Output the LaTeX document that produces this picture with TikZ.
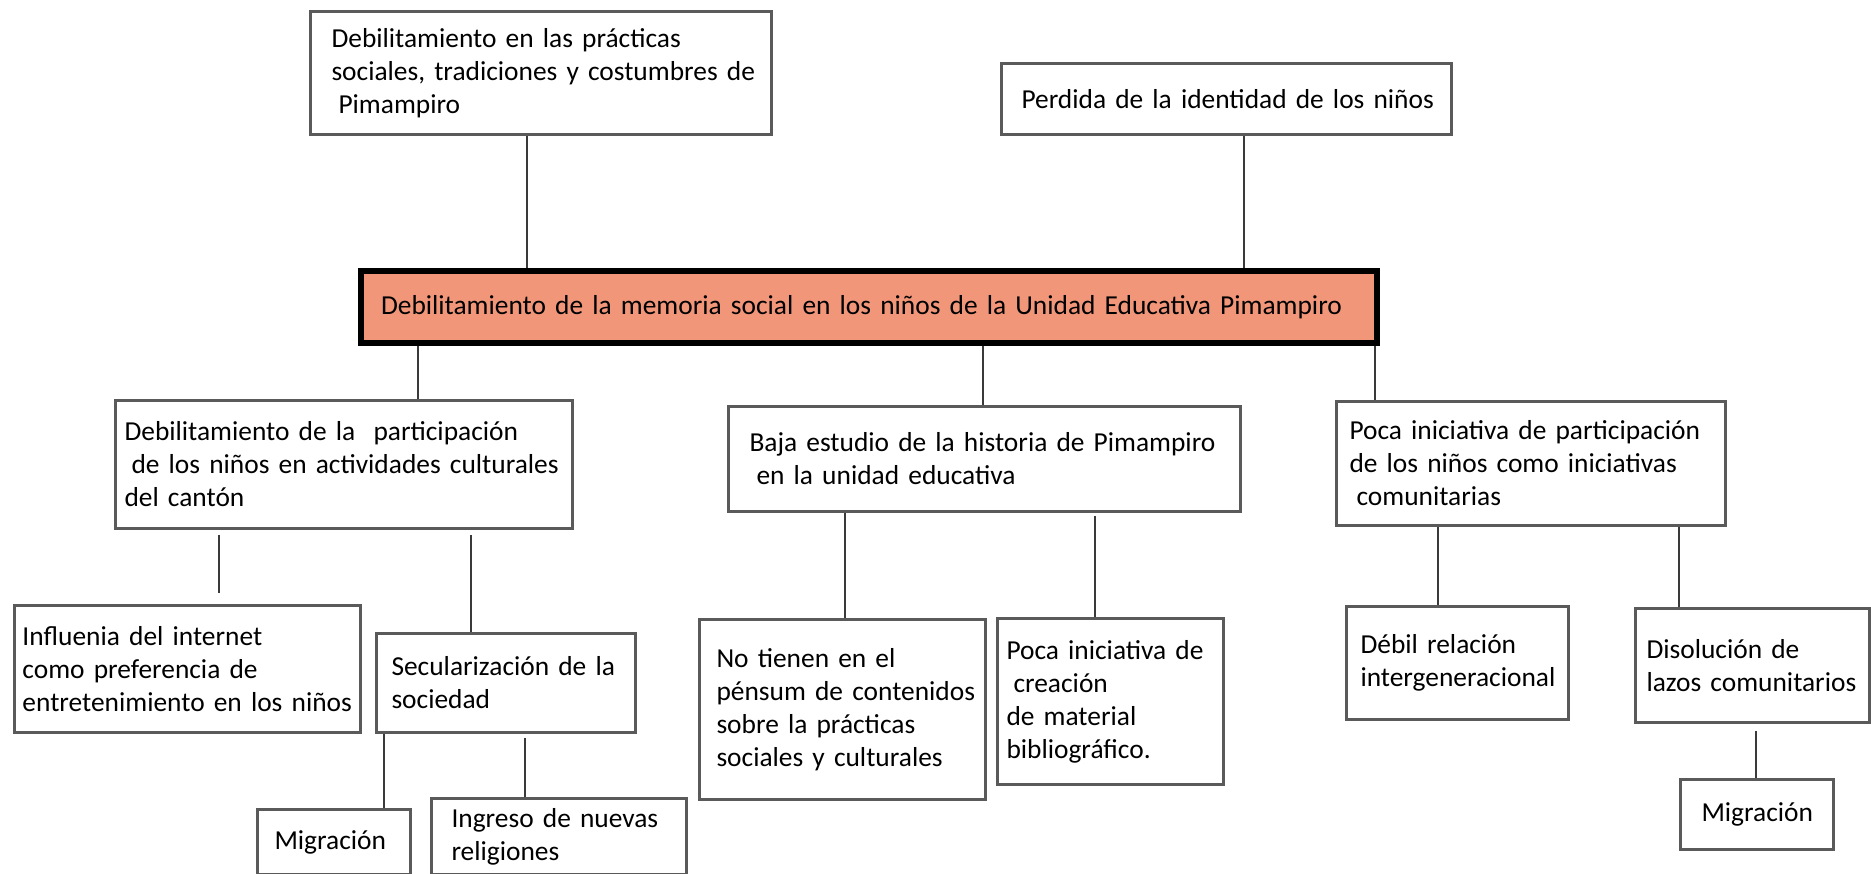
\documentclass[tikz,border=0pt]{standalone}
\usepackage{fontspec}
\setmainfont{Carlito}
\usepackage{tikz}
\usetikzlibrary{positioning}

\definecolor{salmon}{HTML}{F2967A}
\definecolor{boxgray}{HTML}{5A5A5A}
\definecolor{linegray}{HTML}{3A3A3A}

\begin{document}
\begin{tikzpicture}[x=0.1mm,y=-0.1mm,font=\fontsize{7.8}{9.4}\selectfont]
		\tikzstyle{box}=[rectangle, draw=boxgray, line width=0.3mm, anchor=north west, align=left, inner xsep=0pt, inner ysep=0pt,
			execute at begin node={\rightskip=-3cm plus 1fil\hyphenpenalty=10000\relax}]
		\tikzstyle{problem}=[box, draw=black, line width=0.6mm, fill=salmon]
		\tikzstyle{link}=[draw=linegray, line width=0.2mm]

		\useasboundingbox (0,0) rectangle (1871,874);

		% efectos
		\node [box, minimum width=46.1mm, minimum height=12.3mm, text width=41.9mm] (prac) at (309,10)
			{Debilitamiento en las prácticas\\sociales, tradiciones y costumbres de\\\hspace*{2pt}Pimampiro};
		\node [box, minimum width=45mm, minimum height=7.1mm, text width=41mm] (iden) at (1000,62)
			{Perdida de la identidad de los niños};

		% problema central
		\node [problem, minimum width=101.6mm, minimum height=7.2mm, text width=97.6mm] (main) at (358,268)
			{Debilitamiento de la memoria social en los niños de la Unidad Educativa Pimampiro};

		% causas
		\node [box, minimum width=45.7mm, minimum height=12.8mm, text width=43.9mm] (part) at (114,399)
			{Debilitamiento de la \ participación\\\hspace*{2pt}de los niños en actividades culturales\\del cantón};
		\node [box, minimum width=51.2mm, minimum height=10.5mm, text width=47mm] (baja) at (727,405)
			{Baja estudio de la historia de Pimampiro\\\hspace*{2pt}en la unidad educativa};
		\node [box, minimum width=38.9mm, minimum height=12.4mm, text width=36.3mm] (poca) at (1335,400)
			{Poca iniciativa de participación\\de los niños como iniciativas\\\hspace*{2pt}comunitarias};

		% subcausas
		\node [box, minimum width=34.6mm, minimum height=12.7mm, text width=33mm] (inet) at (13,604)
			{Influenia del internet\\como preferencia de\\entretenimiento en los niños};
		\node [box, minimum width=25.9mm, minimum height=9.9mm, text width=22.9mm] (secu) at (375,632)
			{Secularización de la\\sociedad};
		\node [box, minimum width=15.3mm, minimum height=6.5mm, text width=11.9mm] (migr1) at (256,808)
			{Migración};
		\node [box, minimum width=25.5mm, minimum height=7.6mm, text width=21.5mm] (igre) at (430,797)
			{Ingreso de nuevas\\religiones};
		\node [box, minimum width=28.6mm, minimum height=18mm, text width=25.2mm] (pens) at (698,618)
			{No tienen en el\\pénsum de contenidos\\sobre la prácticas\\sociales y culturales};
		\node [box, minimum width=22.6mm, minimum height=16.6mm, text width=20.8mm] (crea) at (996,617)
			{Poca iniciativa de\\\hspace*{2pt}creación\\de material\\bibliográfico.};
		\node [box, minimum width=22.2mm, minimum height=11.3mm, text width=19.4mm] (rela) at (1345,605)
			{Débil relación\\intergeneracional};
		\node [box, minimum width=23.4mm, minimum height=11.4mm, text width=21.2mm] (diso) at (1634,607)
			{Disolución de\\lazos comunitarios};
		\node [box, minimum width=15.3mm, minimum height=7mm, text width=11.1mm] (migr2) at (1679,778)
			{Migración};

		% conectores
		\draw [link] (prac.south) ++(-14,0) coordinate (c1) -- (c1 |- main.north);
		\draw [link] (iden.south) ++(17,0) coordinate (c2) -- (c2 |- main.north);
		\draw [link] (main.south west) ++(60,0) coordinate (c3) -- (c3 |- part.north);
		\draw [link] (main.south west) ++(625,0) coordinate (c4) -- (c4 |- baja.north);
		\draw [link] (main.south east) ++(-5,0) coordinate (c5) -- (c5 |- poca.north);
		\draw [link, shorten <=0.5mm, shorten >=1.1mm] (part.south west) ++(105,0) coordinate (c6) -- (c6 |- inet.north);
		\draw [link, shorten <=0.5mm] (part.south west) ++(357,0) coordinate (c7) -- (c7 |- secu.north);
		\draw [link] (secu.south west) ++(9,0) coordinate (c8) -- (c8 |- migr1.north);
		\draw [link, shorten <=0.4mm] (secu.south west) ++(150,0) coordinate (c9) -- (c9 |- igre.north);
		\draw [link] (baja.south west) ++(118,0) coordinate (c10) -- (c10 |- pens.north);
		\draw [link, shorten <=0.3mm] (baja.south west) ++(368,0) coordinate (c11) -- (c11 |- crea.north);
		\draw [link] (poca.south west) ++(103,0) coordinate (c12) -- (c12 |- rela.north);
		\draw [link] (poca.south west) ++(344,0) coordinate (c13) -- (c13 |- diso.north);
		\draw [link, shorten <=0.7mm] (diso.south west) ++(122,0) coordinate (c14) -- (c14 |- migr2.north);
	\end{tikzpicture}
\end{document}
